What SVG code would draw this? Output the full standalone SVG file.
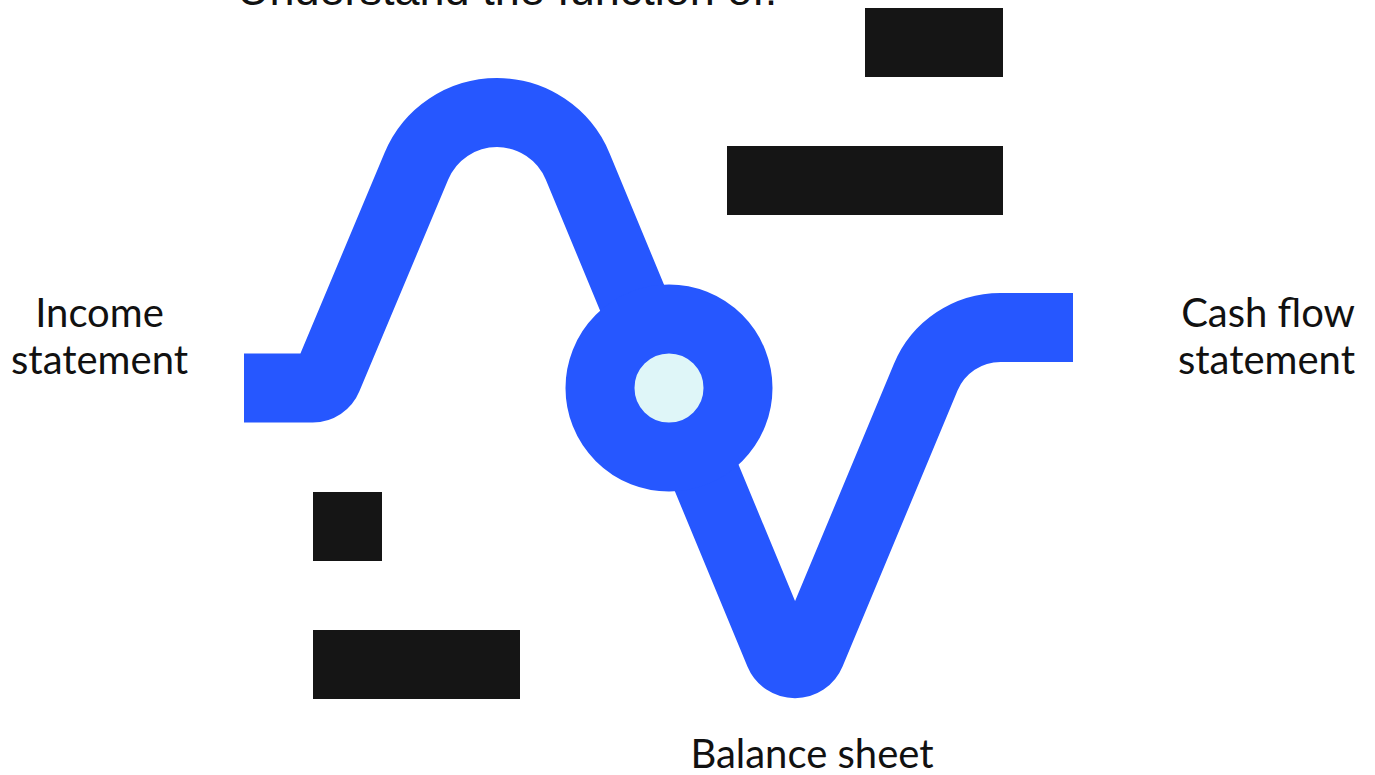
<svg xmlns="http://www.w3.org/2000/svg" width="1375" height="775" viewBox="0 0 1375 775">
<style>
.lbl{font-family:Lato,"Noto Sans",sans-serif;font-size:40px;fill:#111111}
.title{font-family:"Liberation Sans",Arial,sans-serif;font-size:45px;fill:#111111}
.bar{fill:#151515}
.wire{fill:none;stroke:#2657FF;stroke-width:69;stroke-linecap:butt;stroke-linejoin:round}
.hub{fill:#DFF6F8;stroke:#2657FF;stroke-width:69}
</style>
<rect width="1375" height="775" fill="#FFFFFF"/>
<text class="title" x="237" y="5">Understand the function of:</text>
<g id="connectors">
<path class="wire" d="M244 388 H312.7 A16 16 0 0 0 327.5 378.1 L416.3 166.4 A87.4 87.4 0 0 1 577.7 166.4 L779.3 653.3 A17 17 0 0 0 810.7 653.3 L925.7 377.3 A81 81 0 0 1 1000.5 327.5 H1073"/>
</g>
<g id="hub">
<circle class="hub" cx="669" cy="388" r="69"/>
</g>
<g id="income-statement">
<text class="lbl" text-anchor="middle" x="99.5" y="327">Income</text>
<text class="lbl" text-anchor="middle" x="99.5" y="374">statement</text>
</g>
<g id="cash-flow-statement">
<text class="lbl" text-anchor="end" x="1355" y="327">Cash flow</text>
<text class="lbl" text-anchor="end" x="1355" y="374">statement</text>
</g>
<g id="balance-sheet">
<text class="lbl" text-anchor="middle" x="812" y="768">Balance sheet</text>
</g>
<g id="bars">
<rect class="bar" x="865" y="8" width="138" height="69"/>
<rect class="bar" x="727" y="146" width="276" height="69"/>
<rect class="bar" x="313" y="492" width="69" height="69"/>
<rect class="bar" x="313" y="630" width="207" height="69"/>
</g>
</svg>
